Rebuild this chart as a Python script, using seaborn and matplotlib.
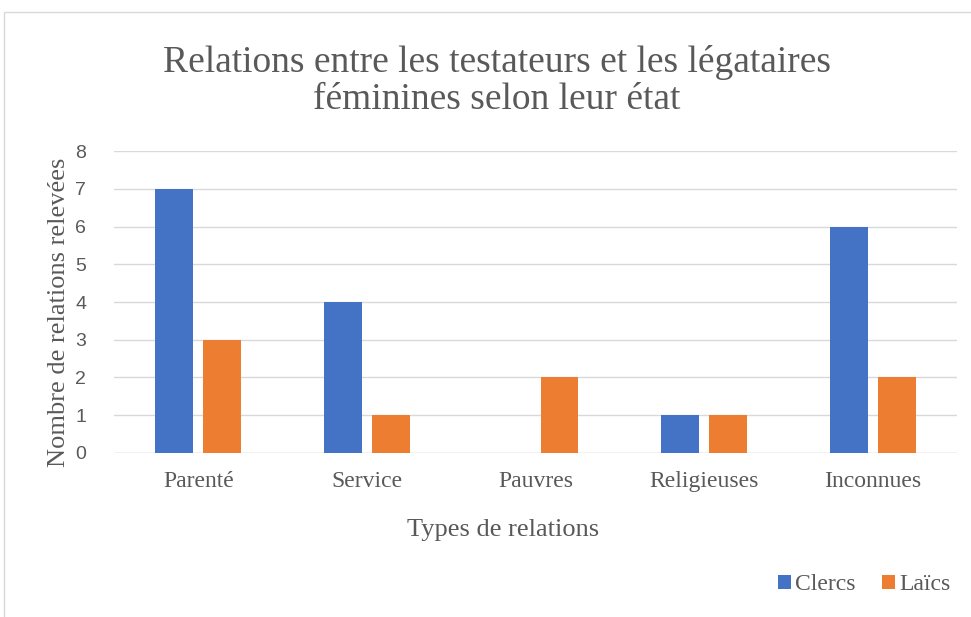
import matplotlib
matplotlib.use("Agg")
import matplotlib.pyplot as plt
import pandas as pd
import seaborn as sns
from matplotlib.patches import Rectangle

# Data
categories = ["Parenté", "Service", "Pauvres", "Religieuses", "Inconnues"]
clercs = [7, 4, 0, 1, 6]
laics = [3, 1, 2, 1, 2]
series = ["Clercs", "Laïcs"]

df = pd.DataFrame({
    "Type": categories * 2,
    "Etat": [series[0]] * len(categories) + [series[1]] * len(categories),
    "n": clercs + laics,
})

sns.set_style("white")
serif = ["Liberation Serif", "DejaVu Serif"]
grey = "#595959"

fig = plt.figure(figsize=(9.71, 6.17), dpi=100)
ax = fig.add_axes([0.1174, 0.266, 0.8682, 0.489])

sns.barplot(data=df, x="Type", y="n", hue="Etat", order=categories,
            hue_order=series, palette=["#4472C4", "#ED7D31"],
            width=0.569, gap=0.21, ax=ax, saturation=1, linewidth=0)

ax.set_ylim(0, 8)
ax.set_yticks(range(0, 9))
ax.yaxis.grid(True, color="#D9D9D9", linewidth=1)
ax.set_axisbelow(True)
sns.despine(ax=ax, left=True, bottom=True)
ax.axhline(0, color="#D9D9D9", linewidth=1, zorder=0)
ax.tick_params(axis="both", length=0)
ax.tick_params(axis="y", labelsize=14, labelcolor=grey, pad=20)
ax.tick_params(axis="x", labelsize=17, labelcolor=grey, pad=13)
for lab in ax.get_xticklabels():
    lab.set_fontfamily(serif)
for lab in ax.get_yticklabels():
    lab.set_fontfamily(["Liberation Sans", "DejaVu Sans"])

ax.set_xlabel("Types de relations", fontsize=19, color=grey, family=serif)
ax.xaxis.set_label_coords(0.461, -0.22)
ax.set_ylabel("Nombre de relations relevées", fontsize=19, color=grey, family=serif)
ax.yaxis.set_label_coords(-0.052, 0.467)

fig.text(0.512, 0.869, "Relations entre les testateurs et les légataires\nféminines selon leur état",
         ha="center", va="center", fontsize=27, color=grey, family=serif, linespacing=1.1)

leg = ax.legend(loc="center", bbox_to_anchor=(0.89, 0.052), bbox_transform=fig.transFigure,
                ncol=2, frameon=False, prop={"family": serif, "size": 17},
                handlelength=0.55, handleheight=0.55, handletextpad=0.2, columnspacing=1.1)
for t in leg.get_texts():
    t.set_color(grey)

fig.patches.append(Rectangle((4 / 971, -0.05), 1.2, 1 - 12 / 617 + 0.05, transform=fig.transFigure,
                             fill=False, edgecolor="#D9D9D9", linewidth=1))

fig.savefig("out.png", dpi=100)
